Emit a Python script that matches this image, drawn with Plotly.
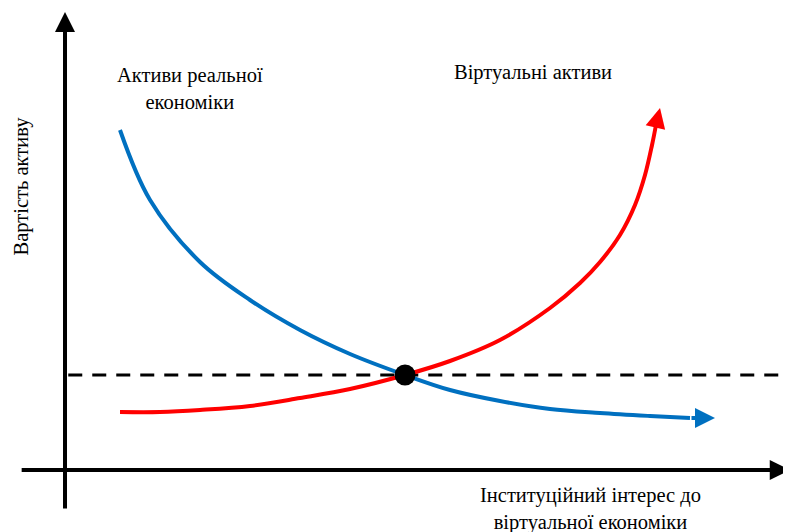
import plotly.graph_objects as go

# Data (abstract units: x = institutional interest, y = asset value)
real_x = [0.846, 1.308, 2.077, 2.846, 3.615, 4.385, 5.231, 5.923, 6.692, 7.462, 8.231, 9.0, 9.615, 10.0]
real_y = [8.5, 6.75, 5.2, 4.25, 3.5, 2.9, 2.375, 2.0, 1.725, 1.525, 1.425, 1.35, 1.3, 1.3]

virt_x = [0.846, 1.462, 2.077, 2.846, 3.615, 4.385, 5.231, 5.923, 6.692, 7.462, 7.923, 8.231, 8.538, 8.769, 8.923, 9.031, 9.092, 9.154]
virt_y = [1.45, 1.45, 1.5, 1.6, 1.8, 2.025, 2.375, 2.725, 3.25, 4.05, 4.675, 5.2, 5.875, 6.625, 7.375, 8.125, 8.625, 9.05]

equil_x = 5.231
equil_y = 2.375

label_real = "Активи реальної<br>економіки"
label_virt = "Віртуальні активи"
label_y = "Вартість активу"
label_x = "Інституційний інтерес до<br>віртуальної економіки"

FONT = "Liberation Serif, Times New Roman, serif"
FS = 20.5
BLUE = "#0070C0"
RED = "#FF0000"

fig = go.Figure()

# dashed equilibrium line
fig.add_trace(go.Scatter(x=[0.05, 11.0], y=[equil_y, equil_y], mode="lines",
                         line=dict(color="black", width=3, dash="14px,10px"),
                         hoverinfo="skip", showlegend=False))

fig.add_trace(go.Scatter(x=real_x[:-1], y=real_y[:-1], mode="lines",
                         line=dict(color=BLUE, width=4, shape="spline", smoothing=1.0),
                         showlegend=False))
fig.add_trace(go.Scatter(x=virt_x[:-1], y=virt_y[:-1], mode="lines",
                         line=dict(color=RED, width=4, shape="spline", smoothing=1.0),
                         showlegend=False))

fig.add_trace(go.Scatter(x=[equil_x], y=[equil_y], mode="markers",
                         marker=dict(color="black", size=21),
                         showlegend=False))

annotations = []
# axes arrows
annotations.append(dict(x=0, y=11.45, ax=0, ay=-1.0, xref="x", yref="y", axref="x", ayref="y",
                        showarrow=True, arrowhead=2, arrowsize=1.0, arrowwidth=4,
                        arrowcolor="black", text=""))
annotations.append(dict(x=11.15, y=0, ax=-0.69, ay=0, xref="x", yref="y", axref="x", ayref="y",
                        showarrow=True, arrowhead=2, arrowsize=1.0, arrowwidth=4,
                        arrowcolor="black", text=""))
# curve arrowheads
annotations.append(dict(x=real_x[-1], y=real_y[-1], ax=real_x[-2], ay=real_y[-2],
                        xref="x", yref="y", axref="x", ayref="y",
                        showarrow=True, arrowhead=2, arrowsize=1.0, arrowwidth=4,
                        arrowcolor=BLUE, text=""))
annotations.append(dict(x=virt_x[-1], y=virt_y[-1], ax=virt_x[-2], ay=virt_y[-2],
                        xref="x", yref="y", axref="x", ayref="y",
                        showarrow=True, arrowhead=2, arrowsize=1.0, arrowwidth=4,
                        arrowcolor=RED, text=""))

# text labels
annotations.append(dict(x=1.92, y=9.55, xref="x", yref="y", text=label_real, showarrow=False,
                        font=dict(family=FONT, size=FS, color="black"), align="center"))
annotations.append(dict(x=7.2, y=9.95, xref="x", yref="y", text=label_virt, showarrow=False,
                        font=dict(family=FONT, size=FS, color="black"), align="center"))
annotations.append(dict(x=-0.67, y=7.1, xref="x", yref="y", text=label_y, showarrow=False,
                        textangle=-90,
                        font=dict(family=FONT, size=FS, color="black")))
annotations.append(dict(x=8.08, y=-0.97, xref="x", yref="y", text=label_x, showarrow=False,
                        font=dict(family=FONT, size=FS, color="black"), align="center"))

# page body has an 8px margin: compensate so content lands at the reference pixels
fig.update_layout(
    width=783, height=524,
    margin=dict(l=0, r=0, t=0, b=0),
    paper_bgcolor="white", plot_bgcolor="white",
    xaxis=dict(range=[-0.877, 11.169], visible=False, fixedrange=True),
    yaxis=dict(range=[-1.55, 11.55], visible=False, fixedrange=True),
    annotations=annotations,
    showlegend=False,
)

fig.write_html("out.html")
